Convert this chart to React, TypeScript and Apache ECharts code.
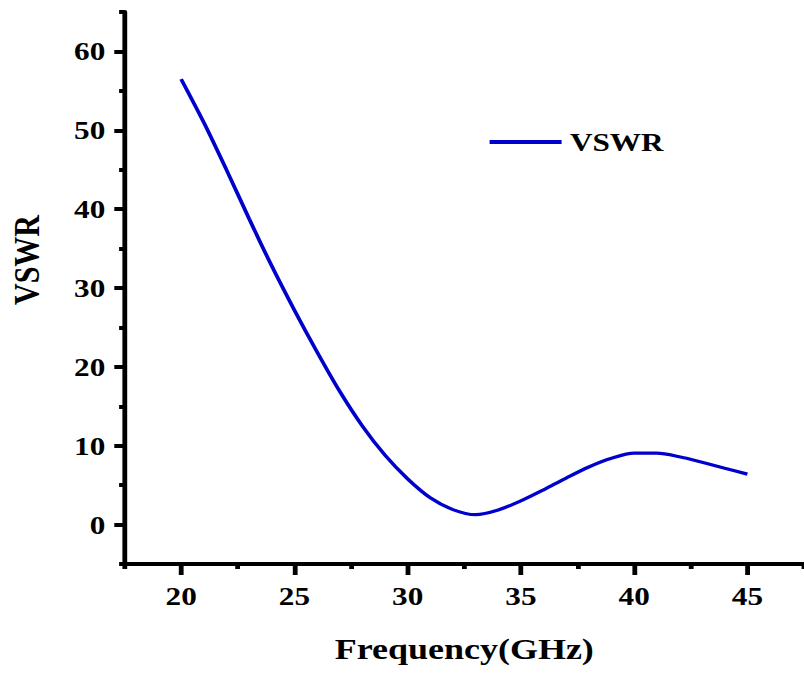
import React, { useEffect, useRef } from "react";
import * as echarts from "echarts";

// Frequency (GHz) and VSWR values
const frequency = [20, 21, 22, 23, 24, 25, 26, 27, 28, 29, 30, 31, 32, 33, 34, 35, 36, 37, 38, 39, 40, 41, 42, 43, 44, 45];
const vswr = [56.5, 51.0, 45.0, 38.8, 32.8, 27.2, 21.9, 16.9, 12.5, 8.8, 5.8, 3.4, 1.9, 1.25, 1.85, 3.0, 4.4, 5.9, 7.3, 8.4, 9.05, 9.05, 8.6, 7.9, 7.15, 6.4];

const xMajorTicks = [20, 25, 30, 35, 40, 45];
const xMinorTicks = [17.5, 22.5, 27.5, 32.5, 37.5, 42.5, 47.5];
const yMajorTicks = [0, 10, 20, 30, 40, 50, 60];
const yMinorTicks = [-5, 5, 15, 25, 35, 45, 55, 65];

const SX = 1.2; // horizontal stretch of the reference picture
const W = 804;
const H = 673;
const FONT = "Liberation Serif";

export default function App() {
  const ref = useRef<HTMLDivElement>(null);
  useEffect(() => {
    document.body.style.margin = "0";
    if (!ref.current) return;
    const chart = echarts.init(ref.current, null, { renderer: "svg" });
    const axisColor = "#000";
    chart.setOption({
      animation: false,
      backgroundColor: "#fff",
      grid: { left: 103.75, right: -5.4, top: 12, bottom: 109, containLabel: false },
      legend: {
        data: ["VSWR"],
        icon: "rect",
        left: 403,
        top: 124,
        itemWidth: 60,
        itemHeight: 4,
        itemStyle: { color: "#0000CC" },
        textStyle: { fontFamily: FONT, fontWeight: "bold", fontSize: 26, color: "#000", padding: [0, 0, 0, 2] },
      },
      xAxis: [
        {
          type: "value",
          position: "bottom",
          min: 17.5,
          max: 47.5,
          interval: 2.5,
          name: "Frequency(GHz)",
          nameLocation: "middle",
          nameGap: 70,
          nameTextStyle: { fontFamily: FONT, fontWeight: "bold", fontSize: 30, color: "#000" },
          axisLine: { show: true, onZero: false, lineStyle: { color: axisColor, width: 4 } },
          axisTick: { show: true, customValues: xMajorTicks, length: 11, lineStyle: { color: axisColor, width: 4 } },
          axisLabel: { customValues: xMajorTicks, margin: 19, fontFamily: FONT, fontWeight: "bold", fontSize: 26, color: "#000" },
          splitLine: { show: false },
        },
        {
          type: "value",
          position: "bottom",
          min: 17.5,
          max: 47.5,
          interval: 2.5,
          axisLine: { show: false, onZero: false },
          axisTick: { show: true, customValues: xMinorTicks, length: 5, lineStyle: { color: axisColor, width: 4 } },
          axisLabel: { show: false },
          splitLine: { show: false },
        },
      ],
      yAxis: [
        {
          type: "value",
          position: "left",
          min: -5,
          max: 65,
          interval: 5,
          axisLine: { show: true, onZero: false, lineStyle: { color: axisColor, width: 4 } },
          axisTick: { show: true, customValues: yMajorTicks, length: 8.5, lineStyle: { color: axisColor, width: 4 } },
          axisLabel: { customValues: yMajorTicks, margin: 16, fontFamily: FONT, fontWeight: "bold", fontSize: 26, color: "#000" },
          splitLine: { show: false },
        },
        {
          type: "value",
          position: "left",
          min: -5,
          max: 65,
          interval: 5,
          axisLine: { show: false, onZero: false },
          axisTick: { show: true, customValues: yMinorTicks, length: 4.5, lineStyle: { color: axisColor, width: 4 } },
          axisLabel: { show: false },
          splitLine: { show: false },
        },
      ],
      graphic: [
        {
          type: "text",
          x: 22.5,
          y: 260,
          rotation: Math.PI / 2,
          style: {
            text: "VSWR",
            font: `bold 30px ${FONT}`,
            fill: "#000",
            align: "center",
            verticalAlign: "middle",
          },
        },
      ],
      series: [
        {
          name: "VSWR",
          type: "line",
          xAxisIndex: 0,
          yAxisIndex: 0,
          data: frequency.map((f, i) => [f, vswr[i]]),
          smooth: 0.3,
          showSymbol: false,
          symbol: "none",
          lineStyle: { color: "#0000CC", width: 3.2 },
          itemStyle: { color: "#0000CC" },
        },
      ],
    });
    return () => chart.dispose();
  }, []);

  return (
    <div style={{ position: "absolute", left: 0, top: 0, width: W, height: H, overflow: "hidden", background: "#fff" }}>
      <div
        ref={ref}
        style={{ width: W / SX, height: H, transform: `scaleX(${SX})`, transformOrigin: "0 0" }}
      />
    </div>
  );
}
